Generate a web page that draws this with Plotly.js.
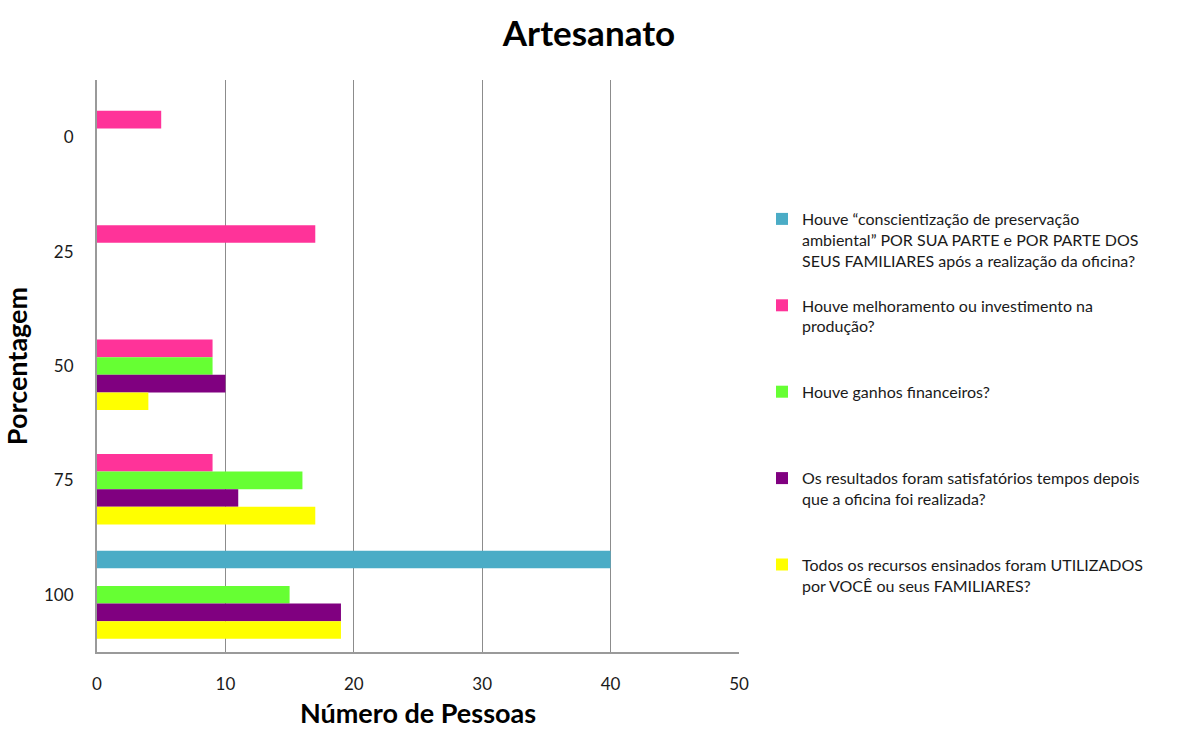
<!DOCTYPE html>
<html>
<head>
<meta charset="utf-8">
<script src="https://cdn.plot.ly/plotly-3.0.1.min.js"></script>
<style>html,body{margin:0;padding:0;background:#fff;}#chart{width:1177px;height:729px;}</style>
</head>
<body>
<div id="chart"></div>
<script>
const categories = ['0', '25', '50', '75', '100'];
const seriesNames = [
  'Houve “conscientização de preservação<br>ambiental” POR SUA PARTE e POR PARTE DOS<br>SEUS FAMILIARES após a realização da oficina?',
  'Houve melhoramento ou investimento na<br>produção?<br> ',
  'Houve ganhos financeiros?<br> <br> ',
  'Os resultados foram satisfatórios tempos depois<br>que a oficina foi realizada?<br> ',
  'Todos os recursos ensinados foram UTILIZADOS<br>por VOCÊ ou seus FAMILIARES?<br> '
];
const conscientizacao = [0, 0, 0, 0, 40];
const melhoramento = [5, 17, 9, 9, 0];
const ganhos = [0, 0, 9, 16, 15];
const resultados = [0, 0, 10, 11, 19];
const recursos = [0, 0, 4, 17, 19];
const colors = ['#4BACC6', '#FF3399', '#66FF33', '#800080', '#FFFF00'];
const xTicks = [0, 10, 20, 30, 40, 50];

const seriesValues = [conscientizacao, melhoramento, ganhos, resultados, recursos];
const font = 'Lato, "Open Sans", sans-serif';

const traces = seriesValues.map((vals, i) => ({
  type: 'bar',
  orientation: 'h',
  name: seriesNames[i],
  y: categories,
  x: vals,
  legendgroup: 'g' + i,
  marker: {color: colors[i]},
  hoverinfo: 'x+y'
}));

const layout = {
  width: 1177,
  height: 729,
  margin: {l: 97, r: 438, t: 80, b: 77},
  paper_bgcolor: '#ffffff',
  plot_bgcolor: '#ffffff',
  font: {family: font, size: 15, color: '#1a1a1a'},
  barmode: 'group',
  bargap: 0.23,
  bargroupgap: 0,
  title: {
    text: '<b>Artesanato</b>',
    font: {family: font, size: 35, color: '#000'},
    x: 589/1177, xref: 'container', xanchor: 'center',
    y: 1 - 34/729, yref: 'container', yanchor: 'middle'
  },
  xaxis: {
    range: [0, 50],
    tickvals: xTicks,
    ticks: '',
    ticklabelstandoff: 16,
    showgrid: true,
    gridcolor: '#8c8c8c',
    gridwidth: 1,
    zeroline: false,
    showline: true,
    linecolor: '#9a9a9a',
    linewidth: 2,
    tickfont: {family: font, size: 17, color: '#1a1a1a'},
    title: {text: '<b>Número de Pessoas</b>', font: {family: font, size: 27, color: '#000'}, standoff: 14}
  },
  yaxis: {
    type: 'category',
    categoryorder: 'array',
    categoryarray: categories,
    autorange: 'reversed',
    ticks: '',
    ticklabelstandoff: 18,
    showgrid: false,
    zeroline: false,
    showline: true,
    linecolor: '#9a9a9a',
    linewidth: 2,
    tickfont: {family: font, size: 17, color: '#1a1a1a'},
    title: {text: '<b>Porcentagem</b>', font: {family: font, size: 27, color: '#000'}, standoff: 15}
  },
  showlegend: true,
  legend: {
    xref: 'container', yref: 'container',
    x: 762/1177, y: 1 - 202/729,
    xanchor: 'left', yanchor: 'top',
    traceorder: 'grouped',
    tracegroupgap: 21,
    valign: 'top',
    itemwidth: 30,
    maxheight: 700,
    font: {family: font, size: 16, color: '#1a1a1a'},
    bgcolor: 'rgba(0,0,0,0)'
  }
};

Plotly.newPlot('chart', traces, layout, {displayModeBar: false, staticPlot: true});
</script>
</body>
</html>
